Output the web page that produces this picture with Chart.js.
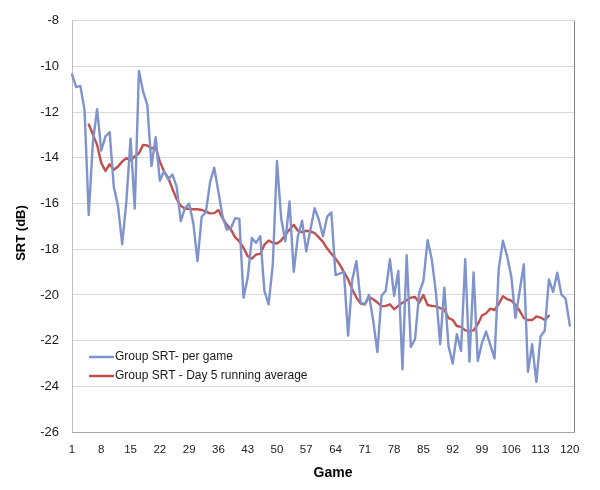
<!DOCTYPE html>
<html>
<head>
<meta charset="utf-8">
<script src="https://cdn.jsdelivr.net/npm/chart.js@4.4.1/dist/chart.umd.min.js"></script>
<style>
  html, body { margin: 0; padding: 0; background: #ffffff; }
  #wrap { width: 600px; height: 490px; }
</style>
</head>
<body>
<div id="wrap"><canvas id="c" width="600" height="490"></canvas></div>
<script>
// ---- data ----
const games = [];
for (let g = 1; g <= 121; g++) games.push(String(g));

const perGame = [
  -10.35, -10.9, -10.85, -11.9, -16.5, -13.3, -11.87, -13.68, -13.06, -12.87,
  -15.28, -16.11, -17.78, -15.9, -13.16, -16.22, -10.19, -11.1, -11.68, -14.36,
  -13.1, -15.0, -14.58, -14.95, -14.73, -15.25, -16.77, -16.2, -16.0, -16.86,
  -18.52, -16.57, -16.38, -15.07, -14.43, -15.48, -16.57, -17.14, -17.07, -16.64,
  -16.67, -20.12, -19.25, -17.51, -17.72, -17.43, -19.83, -20.41, -18.67, -14.14,
  -16.64, -17.65, -15.91, -18.99, -17.43, -16.75, -18.09, -17.14, -16.2, -16.71,
  -17.43, -16.57, -16.39, -19.13, -19.07, -18.99, -21.78, -19.32, -18.52, -20.33,
  -20.41, -20.0, -21.13, -22.5, -20.04, -19.82, -18.44, -20.04, -18.95, -23.26,
  -18.26, -22.28, -21.94, -19.9, -19.39, -17.6, -18.44, -19.9, -22.16, -19.68,
  -22.23, -23.0, -21.72, -22.45, -18.44, -22.92, -19.02, -22.89, -22.1, -21.6,
  -22.19, -22.78, -18.88, -17.63, -18.29, -19.18, -21.0, -19.84, -18.66, -23.37,
  -22.16, -23.81, -21.82, -21.57, -19.32, -19.87, -19.03, -19.99, -20.16, -21.34,
  null
];

const runningAvg = [
  null, null, null, null,
  -12.54, -12.97, -13.43, -14.23, -14.57, -14.28, -14.52, -14.38, -14.16, -14.01,
  -14.1, -13.94, -13.8, -13.43, -13.46, -13.58, -13.55, -14.16, -14.59, -14.88,
  -15.35, -15.8, -16.1, -16.23, -16.23, -16.25, -16.25, -16.28, -16.35, -16.43,
  -16.42, -16.28, -16.64, -16.93, -17.14, -17.48, -17.65, -17.94, -18.3, -18.41,
  -18.23, -18.2, -17.8, -17.62, -17.72, -17.75, -17.62, -17.36, -17.14, -16.93,
  -17.19, -17.25, -17.19, -17.22, -17.29, -17.48, -17.68, -17.97, -18.2, -18.41,
  -18.67, -18.99, -19.32, -19.75, -20.12, -20.38, -20.41, -20.09, -20.19, -20.33,
  -20.5, -20.48, -20.41, -20.63, -20.48, -20.34, -20.23, -20.12, -20.09, -20.34,
  -20.0, -20.44, -20.48, -20.5, -20.58, -20.63, -21.02, -21.09, -21.36, -21.4,
  -21.55, -21.58, -21.55, -21.28, -20.9, -20.8, -20.6, -20.66, -20.4, -20.06,
  -20.18, -20.25, -20.43, -20.69, -21.01, -21.1, -21.1, -20.94, -20.99, -21.1,
  -20.91,
  null, null, null, null, null, null
];

const seriesNames = ["Group SRT- per game", "Group SRT - Day 5 running average"];
const xTitle = "Game";
const yTitle = "SRT (dB)";
const yMin = -26, yMax = -8, yStep = 2;
const xLabelEvery = 7;

// ---- plugins ----
const FONT = "'Liberation Sans', Arial, sans-serif";

const extras = {
  id: 'extras',
  afterDraw(chart) {
    const { ctx, chartArea } = chart;
    ctx.save();
    // right border of plot area
    ctx.strokeStyle = '#808080';
    ctx.lineWidth = 1;
    ctx.beginPath();
    ctx.moveTo(Math.round(chartArea.right) + 0.5, chartArea.top);
    ctx.lineTo(Math.round(chartArea.right) + 0.5, chartArea.bottom);
    ctx.stroke();

    // legend inside plot area
    const ds = chart.data.datasets;
    const lx0 = 89, lx1 = 114, ly0 = 357, gap = 19;
    ctx.font = '12px ' + FONT;
    ctx.textBaseline = 'middle';
    ctx.textAlign = 'left';
    ds.forEach((d, i) => {
      const y = ly0 + i * gap;
      ctx.strokeStyle = d.borderColor;
      ctx.lineWidth = 2.5;
      ctx.beginPath();
      ctx.moveTo(lx0, y);
      ctx.lineTo(lx1, y);
      ctx.stroke();
      ctx.fillStyle = '#1a1a1a';
      ctx.fillText(d.label, lx1 + 1, y);
    });

    // axis titles
    ctx.fillStyle = '#000000';
    ctx.font = 'bold 14px ' + FONT;
    ctx.textAlign = 'center';
    ctx.textBaseline = 'middle';
    ctx.fillText(xTitle, 333, 473);
    ctx.translate(21, 233);
    ctx.rotate(-Math.PI / 2);
    ctx.font = 'bold 13px ' + FONT;
    ctx.fillText(yTitle, 0, 0);
    ctx.restore();
  }
};

new Chart(document.getElementById('c'), {
  type: 'line',
  data: {
    labels: games,
    datasets: [
      {
        label: seriesNames[0],
        data: perGame,
        borderColor: '#7f93cd',
        borderWidth: 2.4,
        borderJoinStyle: 'round',
        borderCapStyle: 'round',
        pointRadius: 0,
        tension: 0,
        spanGaps: false
      },
      {
        label: seriesNames[1],
        data: runningAvg,
        borderColor: '#c0504d',
        borderWidth: 2.4,
        borderJoinStyle: 'round',
        borderCapStyle: 'round',
        pointRadius: 0,
        tension: 0,
        spanGaps: false
      }
    ]
  },
  options: {
    responsive: false,
    animation: false,
    devicePixelRatio: 1,
    layout: { padding: { top: 19, right: 26, left: 0, bottom: 0 } },
    plugins: {
      legend: { display: false },
      tooltip: { enabled: false }
    },
    scales: {
      x: {
        type: 'category',
        offset: false,
        grid: { display: false, drawTicks: false },
        border: { display: true, color: '#a6a6a6', width: 1 },
        ticks: {
          autoSkip: false,
          maxRotation: 0,
          minRotation: 0,
          padding: 11,
          color: '#1a1a1a',
          font: { family: FONT, size: 11.5 },
          callback: function (val, idx) {
            return (idx % xLabelEvery === 0) ? this.getLabelForValue(val) : null;
          }
        },
        afterFit(scale) { scale.height = 58; }
      },
      y: {
        min: yMin,
        max: yMax,
        grid: { color: '#d9d9d9', drawTicks: false, lineWidth: 1 },
        border: { display: true, color: '#bfbfbf', width: 1 },
        ticks: {
          stepSize: yStep,
          padding: 13,
          color: '#1a1a1a',
          font: { family: FONT, size: 13 }
        },
        afterFit(scale) { scale.width = 72; }
      }
    }
  },
  plugins: [extras]
});
</script>
</body>
</html>
